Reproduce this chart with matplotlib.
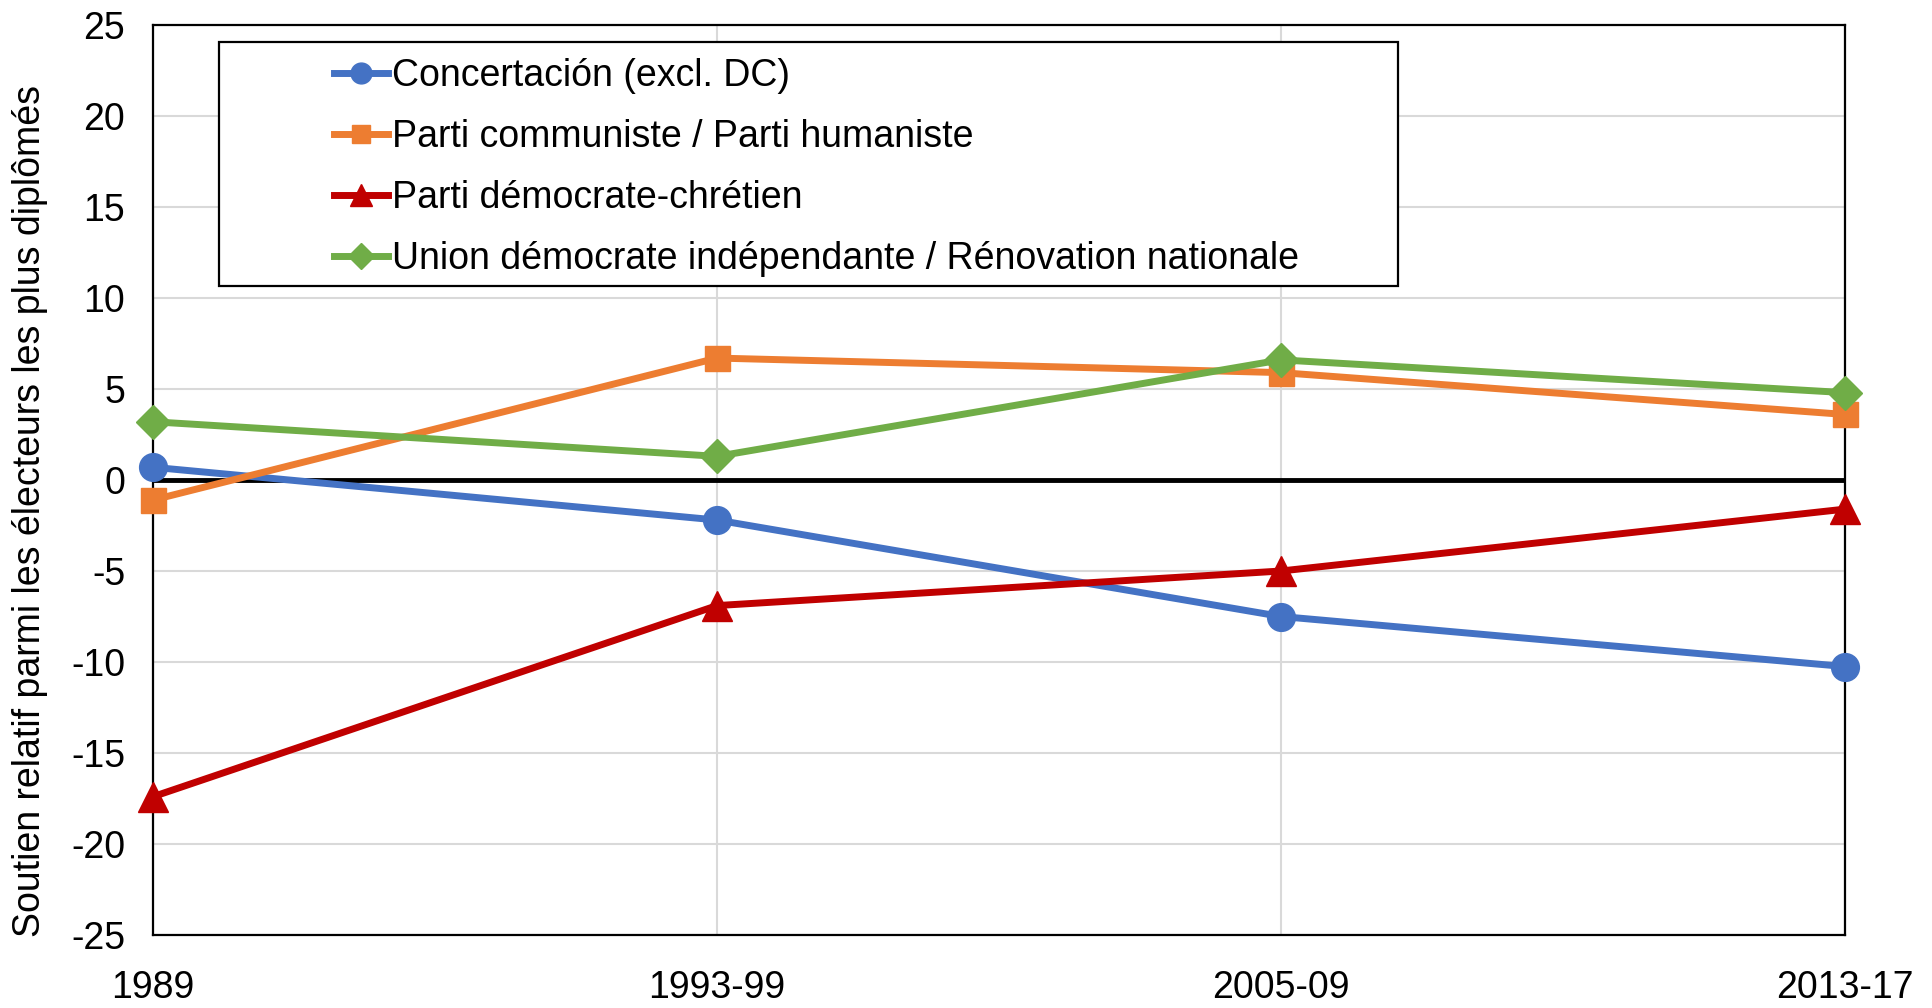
import matplotlib.pyplot as plt
from matplotlib.patches import Rectangle

plt.rcParams['font.family'] = ['Liberation Sans', 'DejaVu Sans']
plt.rcParams['axes.unicode_minus'] = False

# Données
periodes = ['1989', '1993-99', '2005-09', '2013-17']
concertacion = [0.7, -2.2, -7.5, -10.25]
pc_ph = [-1.1, 6.7, 5.9, 3.6]
pdc = [-17.4, -6.9, -5.0, -1.6]
udi_rn = [3.2, 1.3, 6.6, 4.8]

series = [
    ('Concertación (excl. DC)', concertacion, '#4472C4', 'o', 20),
    ('Parti communiste / Parti humaniste', pc_ph, '#ED7D31', 's', 18),
    ('Parti démocrate-chrétien', pdc, '#C00000', '^', 21),
    ('Union démocrate indépendante / Rénovation nationale', udi_rn, '#70AD47', 'D', 17),
]

fig = plt.figure(figsize=(19.32, 10.08), dpi=100)
ax = fig.add_axes([153 / 1932, 1 - 935 / 1008, (1845 - 153) / 1932, (935 - 25) / 1008])

x = range(len(periodes))
for label, vals, color, marker, ms in series:
    ax.plot(x, vals, color=color, lw=5, marker=marker, markersize=ms,
            label=label, zorder=4, clip_on=False)

# Axes et grille
ax.set_xlim(0, 3)
ax.set_ylim(-25, 25)
ax.set_yticks(range(-25, 26, 5))
ax.set_xticks(list(x))
ax.set_xticklabels(periodes)
ax.grid(True, color='#D9D9D9', lw=1.5, zorder=0)
ax.axhline(0, color='black', lw=3.5, zorder=2)
for s in ax.spines.values():
    s.set_color('black')
    s.set_linewidth(1.6)
ax.tick_params(axis='both', length=0, labelsize=27)
ax.tick_params(axis='y', pad=20)
ax.tick_params(axis='x', pad=25)

ax.set_ylabel('Soutien relatif parmi les électeurs les plus diplômés', fontsize=27)
ax.yaxis.set_label_coords(-0.062, 0.466)

# Légende avec cadre
box = Rectangle(((219 - 153) / 1692, (935 - 286) / 910), (1398 - 219) / 1692, (286 - 42) / 910,
                transform=ax.transAxes, facecolor='white', edgecolor='black', lw=1.6,
                zorder=5, clip_on=False)
ax.add_artist(box)
leg = ax.legend(loc='upper left', bbox_to_anchor=((304 - 153) / 1692, 1 - (28 - 25) / 910),
                frameon=False, fontsize=27, handlelength=1.45, handletextpad=0.1,
                labelspacing=0.67, borderpad=0.3)
leg.set_zorder(6)
for h in leg.legend_handles:
    h.set_markersize(h.get_markersize() * 0.75)

fig.savefig('out.png', dpi=100)
